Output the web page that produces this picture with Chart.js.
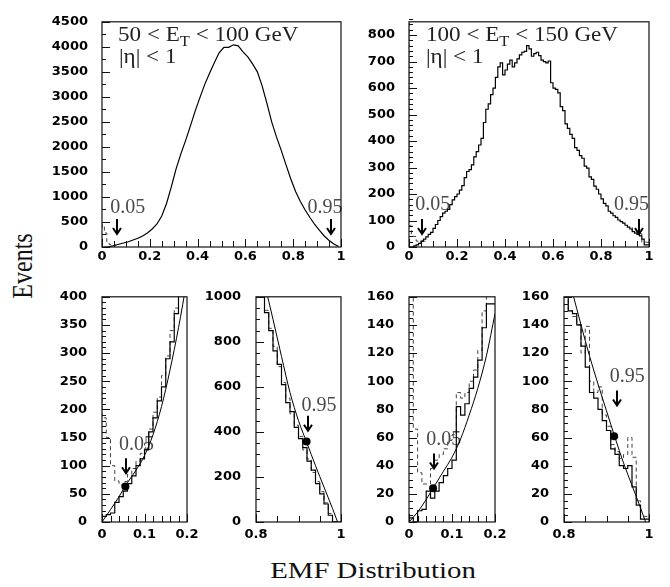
<!DOCTYPE html>
<html>
<head>
<meta charset="utf-8">
<script src="https://cdn.jsdelivr.net/npm/chart.js@4.4.1/dist/chart.umd.min.js"></script>
<style>
  body { margin: 0; background: #fff; }
  #page { position: relative; width: 670px; height: 587px; overflow: hidden; background: #fff; }
  #page canvas { position: absolute; }
  .axis-title {
    position: absolute;
    font-family: 'Liberation Serif', 'Times New Roman', serif;
    font-size: 24px;
    line-height: 24px;
    color: #111;
    white-space: nowrap;
  }
  #xTitle { left: 373px; top: 558px; transform: translateX(-50%) scaleX(1.2); }
  #yTitle { left: 22px; top: 266px; transform: translate(-50%, -50%) rotate(-90deg) scaleY(1.2); }
</style>
</head>
<body>
<div id="page">
  <canvas id="pTopLow"></canvas>
  <canvas id="pTopHigh"></canvas>
  <canvas id="pZoomA0"></canvas>
  <canvas id="pZoomA1"></canvas>
  <canvas id="pZoomB0"></canvas>
  <canvas id="pZoomB1"></canvas>
  <div class="axis-title" id="xTitle">EMF Distribution</div>
  <div class="axis-title" id="yTitle">Events</div>
</div>
<script>
// ---- data ----

// top left: 50 < ET < 100 GeV, bin centres (drawn as a line)
const centresTop = [0.01, 0.03, 0.05, 0.07, 0.09, 0.11, 0.13, 0.15, 0.17, 0.19,
  0.21, 0.23, 0.25, 0.27, 0.29, 0.31, 0.33, 0.35, 0.37, 0.39,
  0.41, 0.43, 0.45, 0.47, 0.49, 0.51, 0.53, 0.55, 0.57, 0.59,
  0.61, 0.63, 0.65, 0.67, 0.69, 0.71, 0.73, 0.75, 0.77, 0.79,
  0.81, 0.83, 0.85, 0.87, 0.89, 0.91, 0.93, 0.95, 0.97, 0.99];
const countsLowEt = [0, 5, 30, 55, 80, 105, 140, 175, 220, 280,
  360, 460, 620, 870, 1200, 1560, 1860, 2130, 2420, 2720,
  2990, 3250, 3470, 3680, 3880, 3990, 3990, 4040, 4020, 3900,
  3800, 3660, 3500, 3220, 2870, 2500, 2200, 1930, 1640, 1360,
  1110, 910, 740, 590, 450, 330, 220, 130, 60, 10];
const edgesLowEtDash = [0, 0.01, 0.02, 0.03, 0.04, 0.05, 0.06];
const countsLowEtDash = [380, 440, 280, 90, 45, 35];

// top right: 100 < ET < 150 GeV, bins of 0.01 (drawn as a histogram)
const edgesTop = [0, 0.01, 0.02, 0.03, 0.04, 0.05, 0.06, 0.07, 0.08, 0.09,
  0.1, 0.11, 0.12, 0.13, 0.14, 0.15, 0.16, 0.17, 0.18, 0.19,
  0.2, 0.21, 0.22, 0.23, 0.24, 0.25, 0.26, 0.27, 0.28, 0.29,
  0.3, 0.31, 0.32, 0.33, 0.34, 0.35, 0.36, 0.37, 0.38, 0.39,
  0.4, 0.41, 0.42, 0.43, 0.44, 0.45, 0.46, 0.47, 0.48, 0.49,
  0.5, 0.51, 0.52, 0.53, 0.54, 0.55, 0.56, 0.57, 0.58, 0.59,
  0.6, 0.61, 0.62, 0.63, 0.64, 0.65, 0.66, 0.67, 0.68, 0.69,
  0.7, 0.71, 0.72, 0.73, 0.74, 0.75, 0.76, 0.77, 0.78, 0.79,
  0.8, 0.81, 0.82, 0.83, 0.84, 0.85, 0.86, 0.87, 0.88, 0.89,
  0.9, 0.91, 0.92, 0.93, 0.94, 0.95, 0.96, 0.97, 0.98, 0.99, 1.0];
const countsHighEt = [0, 0, 0, 4, 8, 14, 22, 30, 38, 48,
  55, 70, 85, 100, 115, 128, 135, 142, 160, 178,
  190, 200, 215, 232, 262, 285, 292, 310, 340, 360,
  385, 410, 470, 520, 540, 575, 600, 640, 680, 695,
  650, 668, 690, 705, 680, 695, 710, 725, 735, 738,
  760, 748, 720, 730, 735, 722, 705, 700, 695, 702,
  620, 600, 595, 582, 530, 515, 465, 448, 425, 410,
  375, 365, 345, 335, 305, 298, 265, 255, 230, 218,
  200, 182, 165, 155, 135, 128, 118, 112, 102, 96,
  90, 82, 75, 68, 58, 52, 48, 42, 30, 8];
const edgesHighEtDashLo = [0, 0.01, 0.03, 0.05, 0.07];
const countsHighEtDashLo = [900, 80, 40, 22];
const edgesHighEtDashHi = [0.93, 0.95, 0.97, 0.99, 1.0];
const countsHighEtDashHi = [75, 62, 50, 18];

// zoomed panels, bins of 0.01
const edgesLow = [0, 0.01, 0.02, 0.03, 0.04, 0.05, 0.06, 0.07, 0.08, 0.09, 0.1,
  0.11, 0.12, 0.13, 0.14, 0.15, 0.16, 0.17, 0.18, 0.19, 0.2];
const edgesHigh = [0.8, 0.81, 0.82, 0.83, 0.84, 0.85, 0.86, 0.87, 0.88, 0.89, 0.9,
  0.91, 0.92, 0.93, 0.94, 0.95, 0.96, 0.97, 0.98, 0.99, 1.0];
const fitXLow = [0, 0.02, 0.04, 0.06, 0.08, 0.1, 0.12, 0.14, 0.16, 0.18, 0.2];
const fitXHigh = [0.8, 0.82, 0.84, 0.86, 0.88, 0.9, 0.92, 0.94, 0.96, 0.98, 0.992];

// 50-100 GeV, low edge
const zoomA0Solid = [6, 10, 13, 16, 35, 45, 55, 68, 82, 100, 112, 128, 160, 185, 215, 240, 290, 320, 370, 420];
const zoomA0Dash = [480, 185, 150, 100, 73, 66, 72, 85, 95, 108, 122, 140, 165, 195, 222, 260, 295, 340, 380, 430];
const zoomA0Fit = [0, 22, 45, 70, 92, 118, 155, 205, 270, 345, 430];
const zoomA0Cut = [0.055, 63];
// 50-100 GeV, high edge
const zoomA1Solid = [1150, 1100, 1010, 930, 850, 760, 700, 610, 530, 490, 420, 370, 330, 270, 230, 170, 125, 80, 30, 0];
const zoomA1Dash = [1150, 1100, 1020, 940, 860, 780, 690, 620, 550, 480, 430, 380, 320, 280, 220, 180, 135, 85, 38, 2];
const zoomA1Fit = [1220, 1060, 900, 735, 575, 450, 350, 250, 155, 60, 0];
const zoomA1Cut = [0.919, 358];
// 100-150 GeV, low edge
const zoomB0Solid = [3, 3, 0, 8, 9, 22, 17, 22, 28, 33, 38, 44, 82, 76, 84, 95, 103, 115, 138, 155];
const zoomB0Dash = [400, 400, 66, 35, 27, 27, 38, 44, 48, 52, 58, 62, 92, 88, 92, 100, 108, 122, 150, 162];
const zoomB0Fit = [0, 7, 16, 26, 36, 46, 59, 76, 95, 118, 148];
const zoomB0Cut = [0.056, 24];
// 100-150 GeV, high edge
const zoomB1Solid = [165, 165, 150, 148, 140, 125, 110, 92, 88, 80, 72, 65, 52, 48, 40, 38, 40, 25, 12, 2];
const zoomB1Dash = [165, 160, 150, 146, 140, 120, 139, 100, 92, 96, 76, 68, 55, 50, 45, 48, 60, 46, 15, 4];
const zoomB1Fit = [185, 163, 140, 118, 98, 79, 60, 42, 26, 10, 0];
const zoomB1Cut = [0.918, 61];

// ---- drawing ----
const AXIS_W = 60, AXIS_H = 30, PAD_T = 9, PAD_R = 18;
const TICK_FONT = { family: "'DejaVu Sans', sans-serif", size: 13, weight: 'bold' };
const SERIF = '"Liberation Serif", "Times New Roman", serif';
const decorById = {};

// histogram as stepped line through the bin edges
function histPoints(edges, counts) {
  return edges.map((e, i) => ({ x: e, y: counts[Math.min(i, counts.length - 1)] }));
}
function linePoints(xs, ys) {
  return xs.map((x, i) => ({ x: x, y: ys[i] }));
}

function solidHist(points) {
  return { data: points, borderColor: '#000', borderWidth: 1.2, pointRadius: 0, stepped: 'after', fill: false };
}
function dashedHist(points) {
  return { data: points, borderColor: '#444', borderWidth: 1, borderDash: [4, 3], pointRadius: 0, stepped: 'after', fill: false };
}
function fitLine(points) {
  return { data: points, borderColor: '#000', borderWidth: 1, pointRadius: 0, cubicInterpolationMode: 'monotone', fill: false };
}
function cutDot(xy) {
  return { data: [{ x: xy[0], y: xy[1] }], showLine: false, pointRadius: 4, pointBackgroundColor: '#000', pointBorderWidth: 0 };
}

const panelDecor = {
  id: 'panelDecor',
  beforeDatasetsDraw(chart) {
    const d = decorById[chart.canvas.id];
    if (!d) return;
    const { ctx, scales: { x, y } } = chart;
    ctx.save();
    ctx.font = '20px ' + SERIF;
    ctx.fillStyle = '#4a4a4a';
    ctx.textAlign = 'center';
    ctx.textBaseline = 'alphabetic';
    d.cuts.forEach(c => {
      ctx.fillText(c.text, x.getPixelForValue(c.labelX), y.getPixelForValue(c.labelY));
    });
    ctx.restore();
  },
  afterDatasetsDraw(chart) {
    const d = decorById[chart.canvas.id];
    if (!d) return;
    const { ctx, chartArea: a, scales: { x, y } } = chart;
    ctx.save();
    ctx.strokeStyle = '#111';
    ctx.lineWidth = 1.2;
    ctx.strokeRect(a.left, a.top, a.right - a.left, a.bottom - a.top);

    // inward ticks, PAW style
    ctx.lineWidth = 1;
    const nx = Math.round((x.max - x.min) / d.minorX);
    for (let i = 0; i <= nx; i++) {
      const v = x.min + i * d.minorX;
      const major = x.ticks.some(t => Math.abs(t.value - v) < d.minorX / 4);
      const px = Math.round(x.getPixelForValue(v)) + 0.5;
      ctx.beginPath();
      ctx.moveTo(px, a.bottom);
      ctx.lineTo(px, a.bottom - (major ? 8 : 6));
      ctx.stroke();
    }
    const ny = Math.round((y.max - y.min) / d.minorY);
    for (let i = 0; i <= ny; i++) {
      const v = y.min + i * d.minorY;
      const major = y.ticks.some(t => Math.abs(t.value - v) < d.minorY / 4);
      const py = Math.round(y.getPixelForValue(v)) + 0.5;
      ctx.beginPath();
      ctx.moveTo(a.left, py);
      ctx.lineTo(a.left + (major ? 8 : 4), py);
      ctx.stroke();
    }

    // cut arrows
    ctx.lineWidth = 2;
    ctx.strokeStyle = '#000';
    d.cuts.forEach(c => {
      const px = Math.round(x.getPixelForValue(c.x));
      const py = y.getPixelForValue(c.tipY);
      ctx.beginPath();
      ctx.moveTo(px, py - 15);
      ctx.lineTo(px, py);
      ctx.moveTo(px - 4, py - 6);
      ctx.lineTo(px, py);
      ctx.lineTo(px + 4, py - 6);
      ctx.stroke();
    });

    // panel title
    if (d.title) {
      ctx.fillStyle = '#222';
      ctx.textAlign = 'left';
      d.title.forEach(line => {
        ctx.save();
        ctx.translate(a.left + line.dx, a.top + line.dy);
        ctx.scale(1.1, 1);
        let cx = 0;
        line.parts.forEach(p => {
          ctx.font = (p.sub ? '15px ' : '21px ') + SERIF;
          ctx.fillText(p.t, cx, p.sub ? 5 : 0);
          cx += ctx.measureText(p.t).width;
        });
        ctx.restore();
      });
    }
    ctx.restore();
  }
};

function makePanel(id, box, spec) {
  const canvas = document.getElementById(id);
  canvas.width = box.w + AXIS_W + PAD_R;
  canvas.height = box.h + PAD_T + AXIS_H;
  canvas.style.left = (box.l - AXIS_W) + 'px';
  canvas.style.top = (box.t - PAD_T) + 'px';
  decorById[id] = spec.decor;

  return new Chart(canvas, {
    type: 'line',
    data: { datasets: spec.datasets },
    options: {
      responsive: false,
      animation: false,
      devicePixelRatio: 1,
      layout: { padding: { top: PAD_T, right: PAD_R, left: 0, bottom: 0 } },
      plugins: { legend: { display: false }, tooltip: { enabled: false } },
      scales: {
        x: {
          type: 'linear',
          min: spec.x[0], max: spec.x[1],
          border: { display: false },
          grid: { display: false, drawTicks: false },
          afterFit: s => { s.height = AXIS_H; },
          ticks: {
            stepSize: spec.x[2], padding: spec.xPad, font: TICK_FONT, color: '#000',
            maxRotation: 0, autoSkip: false, includeBounds: false,
            callback: v => String(+v.toFixed(2))
          }
        },
        y: {
          type: 'linear',
          min: spec.y[0], max: spec.y[1],
          border: { display: false },
          grid: { display: false, drawTicks: false },
          afterFit: s => { s.width = AXIS_W; },
          ticks: {
            stepSize: spec.y[2], padding: spec.yPad, font: TICK_FONT, color: '#000',
            autoSkip: false, includeBounds: false,
            callback: v => String(Math.round(v))
          }
        }
      }
    },
    plugins: [panelDecor]
  });
}

const titleLow = [
  { dx: 16, dy: 19, parts: [{ t: '50 < E' }, { t: 'T', sub: true }, { t: ' < 100 GeV' }] },
  { dx: 17, dy: 41, parts: [{ t: '|η| < 1' }] }
];
const titleHigh = [
  { dx: 17, dy: 19, parts: [{ t: '100 < E' }, { t: 'T', sub: true }, { t: ' < 150 GeV' }] },
  { dx: 17, dy: 41, parts: [{ t: '|η| < 1' }] }
];

makePanel('pTopLow', { l: 102, t: 9, w: 239, h: 238 }, {
  x: [0, 1, 0.2], y: [0, 4500, 500], xPad: 2, yPad: 14,
  datasets: [
    { data: linePoints(centresTop, countsLowEt), borderColor: '#000', borderWidth: 1.2, pointRadius: 0, fill: false },
    dashedHist(histPoints(edgesLowEtDash, countsLowEtDash))
  ],
  decor: {
    minorX: 0.05, minorY: 250, title: titleLow,
    cuts: [
      { x: 0.063, tipY: 260, text: '0.05', labelX: 0.108, labelY: 677 },
      { x: 0.958, tipY: 260, text: '0.95', labelX: 0.933, labelY: 677 }
    ]
  }
});

makePanel('pTopHigh', { l: 409, t: 9, w: 240, h: 238 }, {
  x: [0, 1, 0.2], y: [0, 850, 100], xPad: 2, yPad: 14,
  datasets: [
    solidHist(histPoints(edgesTop, countsHighEt)),
    dashedHist(histPoints(edgesHighEtDashLo, countsHighEtDashLo)),
    dashedHist(histPoints(edgesHighEtDashHi, countsHighEtDashHi))
  ],
  decor: {
    minorX: 0.05, minorY: 20, title: titleHigh,
    cuts: [
      { x: 0.056, tipY: 49, text: '0.05', labelX: 0.099, labelY: 141 },
      { x: 0.96, tipY: 49, text: '0.95', labelX: 0.927, labelY: 141 }
    ]
  }
});

makePanel('pZoomA0', { l: 102, t: 283, w: 85, h: 239 }, {
  x: [0, 0.2, 0.1], y: [0, 400, 50], xPad: 5, yPad: 15,
  datasets: [
    cutDot(zoomA0Cut),
    fitLine(linePoints(fitXLow, zoomA0Fit)),
    solidHist(histPoints(edgesLow, zoomA0Solid)),
    dashedHist(histPoints(edgesLow, zoomA0Dash))
  ],
  decor: {
    minorX: 0.02, minorY: 10,
    cuts: [{ x: 0.057, tipY: 86.5, text: '0.05', labelX: 0.081, labelY: 128 }]
  }
});

makePanel('pZoomA1', { l: 256, t: 283, w: 85, h: 239 }, {
  x: [0.8, 1, 0.2], y: [0, 1000, 200], xPad: 5, yPad: 15,
  datasets: [
    cutDot(zoomA1Cut),
    fitLine(linePoints(fitXHigh, zoomA1Fit)),
    solidHist(histPoints(edgesHigh, zoomA1Solid)),
    dashedHist(histPoints(edgesHigh, zoomA1Dash))
  ],
  decor: {
    minorX: 0.05, minorY: 50,
    cuts: [{ x: 0.923, tipY: 405, text: '0.95', labelX: 0.948, labelY: 492 }]
  }
});

makePanel('pZoomB0', { l: 409, t: 283, w: 86, h: 239 }, {
  x: [0, 0.2, 0.1], y: [0, 160, 20], xPad: 5, yPad: 15,
  datasets: [
    cutDot(zoomB0Cut),
    fitLine(linePoints(fitXLow, zoomB0Fit)),
    solidHist(histPoints(edgesLow, zoomB0Solid)),
    dashedHist(histPoints(edgesLow, zoomB0Dash))
  ],
  decor: {
    minorX: 0.02, minorY: 5,
    cuts: [{ x: 0.058, tipY: 38, text: '0.05', labelX: 0.081, labelY: 54.7 }]
  }
});

makePanel('pZoomB1', { l: 564, t: 283, w: 85, h: 239 }, {
  x: [0.8, 1, 0.2], y: [0, 160, 20], xPad: 5, yPad: 15,
  datasets: [
    cutDot(zoomB1Cut),
    fitLine(linePoints(fitXHigh, zoomB1Fit)),
    solidHist(histPoints(edgesHigh, zoomB1Solid)),
    dashedHist(histPoints(edgesHigh, zoomB1Dash))
  ],
  decor: {
    minorX: 0.05, minorY: 5,
    cuts: [{ x: 0.924, tipY: 82.8, text: '0.95', labelX: 0.949, labelY: 99.5 }]
  }
});
</script>
</body>
</html>
